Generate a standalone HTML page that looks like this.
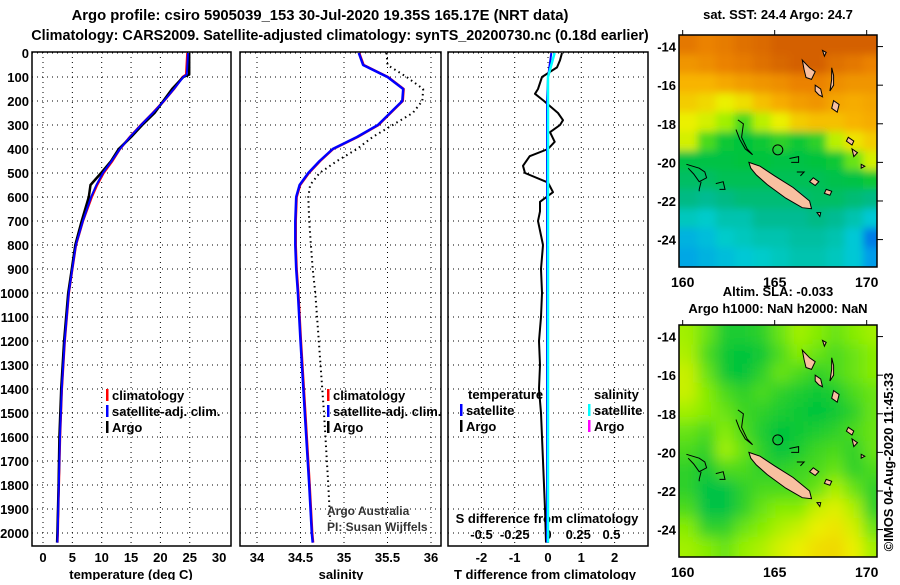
<!DOCTYPE html>
<html><head><meta charset="utf-8">
<style>
body{margin:0;background:#fff;}
svg text{font-family:"Liberation Sans",sans-serif;font-weight:bold;}
</style></head>
<body>
<svg id="c" width="900" height="580" viewBox="0 0 900 580" xmlns="http://www.w3.org/2000/svg">
<defs>
<clipPath id="clipTop"><rect x="679" y="35" width="198" height="232"/></clipPath>
<clipPath id="clipBot"><rect x="679" y="325" width="198" height="232"/></clipPath>
<filter id="blurA" x="-10%" y="-10%" width="120%" height="120%"><feGaussianBlur stdDeviation="4"/></filter>
<filter id="blurB" x="-10%" y="-10%" width="120%" height="120%"><feGaussianBlur stdDeviation="7"/></filter>
</defs>
<text x="320" y="20" font-size="14.8" text-anchor="middle">Argo profile: csiro 5905039_153 30-Jul-2020 19.35S 165.17E (NRT data)</text>
<text x="340" y="40" font-size="14.4" text-anchor="middle">Climatology: CARS2009. Satellite-adjusted climatology: synTS_20200730.nc (0.18d earlier)</text>
<g id="g"></g>
</svg>
<script>
// ---------- data ----------
const tempDepth = [0,90,100,150,200,250,300,350,400,450,500,550,600,700,800,900,1000,1200,1400,1600,1800,2000,2040];
const tempClim  = [24.6,24.4,23.8,22.3,20.6,18.7,16.7,14.8,13.1,11.8,10.3,9.2,8.3,6.8,5.6,5.0,4.4,3.7,3.2,2.9,2.7,2.5,2.45];
const tempSat   = [24.7,24.5,23.9,22.3,20.6,18.7,16.7,14.8,13.1,11.7,10.2,9.1,8.2,6.8,5.6,5.0,4.4,3.7,3.2,2.9,2.7,2.5,2.45];
const tempArgo  = [24.9,24.9,23.9,22.0,20.5,19.0,16.9,15.0,12.9,11.6,9.9,8.1,7.8,6.6,5.5,4.9,4.3,3.6,3.1,2.8,2.65,2.45,2.4];
const salDepth = [0,50,100,150,200,250,300,350,400,450,500,550,600,700,800,900,1000,1200,1500,1800,2000,2040];
const salClim  = [35.17,35.22,35.50,35.68,35.67,35.53,35.39,35.15,34.87,34.72,34.59,34.49,34.45,34.44,34.44,34.45,34.47,34.50,34.55,34.60,34.63,34.64];
const salArgoDepth = [0,50,100,150,200,250,300,350,400,450,500,550,600,700,800,900,1000,1200,1500,1800,1950];
const salArgo = [35.49,35.50,35.72,35.91,35.90,35.79,35.56,35.33,35.15,34.92,34.72,34.61,34.59,34.60,34.62,34.64,34.67,34.71,34.77,34.82,34.84];
const dDepth = [0,30,60,100,150,170,200,250,280,300,330,370,400,430,470,500,540,580,620,660,700,800,900,1000,1100,1200,1300,1400,1500,1700,1900,2040];
const dTArgo = [0.42,0.36,0.27,-0.18,-0.30,-0.39,-0.12,0.30,0.45,0.36,0.06,0.20,0.0,-0.55,-0.75,-0.69,0.0,0.15,-0.24,-0.24,-0.30,-0.15,-0.21,-0.18,-0.21,-0.27,-0.24,-0.27,-0.21,-0.15,-0.09,-0.06];
const dSatDepth = [0,100,200,2040];
const dTSat = [0.10,0.0,-0.03,-0.03];
const dSSat = [0.05,0.0,0.0,0.0];
const depthTicks = [0,100,200,300,400,500,600,700,800,900,1000,1100,1200,1300,1400,1500,1600,1700,1800,1900,2000];
const tempTicks = [0,5,10,15,20,25,30];
const salTicks = [34,34.5,35,35.5,36];
const salTickLabels = ["34","34.5","35","35.5","36"];
const dTTicks = [-2,-1,0,1,2];
const dSTicks = [-0.5,-0.25,0,0.25,0.5];
const dSTickLabels = ["-0.5","-0.25","0","0.25","0.5"];
const latTicks = [-14,-16,-18,-20,-22,-24];
const lonTicks = [160,165,170];
const sstGrid = [
[0.88,0.85,0.87,0.90,0.92,0.95,0.95,0.95,0.95,0.95,0.95],
[0.80,0.82,0.85,0.87,0.90,0.93,0.95,0.95,0.90,0.88,0.85],
[0.72,0.72,0.75,0.78,0.80,0.82,0.85,0.85,0.82,0.80,0.80],
[0.68,0.66,0.62,0.65,0.70,0.74,0.78,0.80,0.76,0.74,0.76],
[0.62,0.60,0.56,0.50,0.58,0.62,0.68,0.70,0.70,0.72,0.74],
[0.60,0.50,0.46,0.45,0.46,0.48,0.46,0.48,0.58,0.64,0.68],
[0.44,0.44,0.44,0.45,0.45,0.44,0.44,0.45,0.46,0.52,0.60],
[0.40,0.40,0.42,0.42,0.42,0.42,0.42,0.42,0.43,0.44,0.46],
[0.36,0.34,0.36,0.38,0.38,0.38,0.38,0.40,0.40,0.38,0.36],
[0.28,0.26,0.30,0.30,0.34,0.34,0.34,0.36,0.34,0.30,0.24],
[0.20,0.22,0.26,0.28,0.30,0.30,0.32,0.32,0.30,0.24,0.10],
[0.18,0.20,0.22,0.24,0.26,0.28,0.30,0.30,0.28,0.24,0.16]];
const slaGrid = [
[0.56,0.52,0.47,0.47,0.48,0.52,0.56,0.54,0.52,0.54,0.56],
[0.57,0.50,0.46,0.45,0.46,0.50,0.54,0.52,0.50,0.52,0.54],
[0.59,0.52,0.46,0.45,0.48,0.52,0.50,0.48,0.50,0.52,0.54],
[0.59,0.54,0.50,0.48,0.50,0.48,0.47,0.46,0.47,0.50,0.52],
[0.56,0.54,0.52,0.49,0.48,0.47,0.46,0.45,0.46,0.48,0.52],
[0.52,0.50,0.54,0.50,0.47,0.45,0.46,0.47,0.48,0.50,0.52],
[0.50,0.48,0.56,0.52,0.48,0.45,0.47,0.49,0.50,0.48,0.52],
[0.48,0.46,0.50,0.50,0.48,0.48,0.49,0.50,0.52,0.48,0.50],
[0.48,0.44,0.44,0.48,0.50,0.50,0.50,0.52,0.57,0.52,0.48],
[0.50,0.44,0.44,0.48,0.52,0.54,0.54,0.59,0.61,0.57,0.48],
[0.54,0.48,0.48,0.52,0.54,0.57,0.59,0.62,0.64,0.60,0.52],
[0.56,0.54,0.52,0.55,0.57,0.60,0.62,0.65,0.66,0.62,0.56]];
const gridLat0 = -13.4, gridLon0 = 159.8;
const newCal = [[163.6,-20.0],[164.2,-20.2],[165.0,-20.7],[166.0,-21.3],[166.9,-22.0],[167.0,-22.4],[166.5,-22.35],[165.6,-21.85],[164.6,-21.15],[164.0,-20.65],[163.7,-20.3]];
const vanuatu = [
[[166.5,-14.7],[166.9,-15.1],[167.2,-15.3],[167.0,-15.7],[166.7,-15.6],[166.6,-15.2]],
[[167.2,-16.0],[167.5,-16.2],[167.6,-16.6],[167.4,-16.5],[167.2,-16.3]],
[[168.1,-15.1],[168.2,-15.5],[168.2,-16.0],[168.0,-16.3],[168.1,-15.7]],
[[168.2,-16.8],[168.5,-17.0],[168.4,-17.4],[168.1,-17.2]],
[[169.0,-18.7],[169.3,-18.9],[169.2,-19.1],[168.9,-18.9]],
[[169.2,-19.3],[169.5,-19.5],[169.3,-19.7]],
[[167.1,-20.8],[167.4,-21.0],[167.2,-21.2],[166.9,-21.0]],
[[167.8,-21.4],[168.1,-21.5],[168.0,-21.7],[167.7,-21.6]],
[[167.6,-14.2],[167.8,-14.3],[167.7,-14.5]],
[[167.3,-22.6],[167.5,-22.6],[167.45,-22.8]],
[[169.7,-20.1],[169.9,-20.2],[169.7,-20.3]]];
const reefs = [
[[163.0,-17.8],[163.3,-18.0],[163.2,-18.7],[163.5,-19.3],[163.8,-19.6],[163.4,-19.3],[163.1,-18.8],[162.9,-18.3]],
[[160.2,-20.1],[160.9,-20.3],[161.2,-20.5],[161.3,-20.8],[160.9,-21.0],[160.6,-20.6],[160.3,-20.3]],
[[161.0,-21.0],[160.9,-21.4],[160.9,-21.5]],
[[161.8,-21.1],[162.2,-21.0],[162.3,-21.4],[162.0,-21.4]],
[[165.8,-19.8],[166.3,-19.7],[166.3,-20.0],[165.9,-20.0]],
[[166.2,-20.5],[166.6,-20.5],[166.4,-20.7]]];
const argoLon = 165.17, argoLat = -19.35;

// ---------- helpers ----------
const NS = "http://www.w3.org/2000/svg";
const G = document.getElementById('g');
function el(tag, attrs, parent){const e=document.createElementNS(NS,tag);for(const k in attrs)e.setAttribute(k,attrs[k]);(parent||G).appendChild(e);return e;}
function txt(x,y,s,size,anchor,name,parent,extra){const t=el('text',Object.assign({x:x,y:y,'font-size':size,'text-anchor':anchor||'start'},extra||{}),parent);t.textContent=s;


return t;}
const top0=52, pxDepth=0.24;
const yD = d => top0 + d*pxDepth + 1;
const xT = v => 43 + v*5.87;
const xS = v => 257 + (v-34)*87;
const xDT = v => 548 + v*33.3;
const xDS = v => 548 + v*133;
const panels=[[32,231],[240,441],[448,648]];
function line(pts, color, w, name, dash){
  const p=el('polyline',{points:pts.map(q=>q[0].toFixed(1)+','+q[1].toFixed(1)).join(' '),fill:'none',stroke:color,'stroke-width':w,'stroke-linejoin':'round'});
  if(dash) p.setAttribute('stroke-dasharray',dash);
  
  
  return p;
}

// panels frames, grid
panels.forEach((p,i)=>{
  const fr=el('rect',{x:p[0],y:top0,width:p[1]-p[0],height:494,fill:'none',stroke:'#000','stroke-width':1.5});
  
  
  depthTicks.forEach(d=>{
    const gl=el('line',{x1:p[0],x2:p[1],y1:yD(d),y2:yD(d),stroke:'#000','stroke-width':1,'stroke-dasharray':'1 4'});
    
    
  });
});
depthTicks.forEach(d=>{ txt(29,yD(d)+5,String(d),13,'end','depth-tick-label'); });
function vgrid(ticks,fx,name){ticks.forEach(v=>{const l=el('line',{x1:fx(v),x2:fx(v),y1:top0,y2:546,stroke:'#000','stroke-width':1,'stroke-dasharray':'1 4'});

});}
vgrid(tempTicks.slice(0,6),xT,'temp-gridline');
vgrid(salTicks,xS,'sal-gridline');
vgrid(dTTicks,xDT,'tdiff-gridline');
tempTicks.forEach(v=>txt(xT(v),562,String(v),13,'middle','temp-tick-label'));
salTicks.forEach((v,i)=>txt(xS(v),562,salTickLabels[i],13,'middle','sal-tick-label'));
dTTicks.forEach(v=>txt(xDT(v),562,String(v),13,'middle','tdiff-tick-label'));
dSTicks.forEach((v,i)=>txt(xDS(v)+(v>0?-3:0),539,dSTickLabels[i],13,'middle','sdiff-tick-label'));
txt(131,579,'temperature (deg C)',13,'middle','temp-axis-title');
txt(341,579,'salinity',13,'middle','sal-axis-title');
txt(545,579,'T difference from climatology',13,'middle','tdiff-axis-title');
txt(547,523,'S difference from climatology',13,'middle','sdiff-axis-title');

// temperature series
line(tempDepth.map((d,i)=>[xT(tempClim[i]),yD(d)]),'#f00',2.5,'temp-climatology-line');
line(tempDepth.map((d,i)=>[xT(tempArgo[i]),yD(d)]),'#000',2.5,'temp-argo-line');
line(tempDepth.map((d,i)=>[xT(tempSat[i]),yD(d)]),'#00f',2,'temp-satellite-line');
// salinity series
line(salArgoDepth.map((d,i)=>[xS(salArgo[i]),yD(d)]),'#000',2,'sal-argo-line','1.5 3.5');
line(salDepth.map((d,i)=>[xS(salClim[i]+0.005),yD(d)]),'#f00',2.5,'sal-climatology-line');
line(salDepth.map((d,i)=>[xS(salClim[i]),yD(d)]),'#00f',2.5,'sal-satellite-line');
// differences
line(dDepth.map((d,i)=>[xDT(dTArgo[i]),yD(d)]),'#000',2,'tdiff-argo-line');
line(dSatDepth.map((d,i)=>[xDT(dTSat[i]),yD(d)]),'#00f',2,'tdiff-satellite-line');
line(dSatDepth.map((d,i)=>[xDS(dSSat[i]),yD(d)]),'#0ff',2.5,'sdiff-satellite-line');

// legends
function leg(x,y,color,label,name){
  const r=el('rect',{x:x,y:y-11,width:2.5,height:12,fill:color});
  
  
  txt(x+6,y,label,13,'start',name);
}
leg(106,400,'#f00','climatology','legend-temp-climatology');
leg(106,416,'#00f','satellite-adj. clim.','legend-temp-satellite');
leg(106,432,'#000','Argo','legend-temp-argo');
leg(327,400,'#f00','climatology','legend-sal-climatology');
leg(327,416,'#00f','satellite-adj. clim.','legend-sal-satellite');
leg(327,432,'#000','Argo','legend-sal-argo');
txt(468,399,'temperature',13,'start','legend-temperature-heading');
txt(594,399,'salinity',13,'start','legend-salinity-heading');
leg(460,415,'#00f','satellite','legend-tdiff-satellite');
leg(460,431,'#000','Argo','legend-tdiff-argo');
leg(588,415,'#0ff','satellite','legend-sdiff-satellite');
leg(588,431,'#f0f','Argo','legend-sdiff-argo');
const a1=txt(327,515,'Argo Australia',12,'start','credit-argo-australia'); a1.setAttribute('font-weight','normal'); a1.setAttribute('fill','#333');
const a2=txt(327,531,'PI: Susan Wijffels',12,'start','credit-pi'); a2.setAttribute('font-weight','normal'); a2.setAttribute('fill','#333');

// ---------- maps ----------
const stops=[[0,[0,70,220]],[0.15,[0,150,235]],[0.25,[0,205,210]],[0.35,[0,185,140]],[0.45,[0,195,60]],[0.55,[150,240,0]],[0.62,[235,240,0]],[0.72,[248,180,0]],[0.85,[235,130,0]],[1,[200,80,0]]];
function cmap(v){for(let i=1;i<stops.length;i++){if(v<=stops[i][0]){const a=stops[i-1],b=stops[i],t=(v-a[0])/(b[0]-a[0]);return 'rgb('+a[1].map((c,k)=>Math.round(c+(b[1][k]-c)*t)).join(',')+')';}}return 'rgb(200,80,0)';}
function drawMap(y0,grid,clip,filt,name){
  const pxLat=19.3, pxLon=18.4, x0=679;
  const xL=lon=>x0+(lon-159.8)*pxLon, yL=lat=>y0+(-13.4-lat)*pxLat;
  const gc=el('g',{'clip-path':'url(#'+clip+')'});
  
  
  el('rect',{x:679,y:y0,width:198,height:232,fill:cmap(grid[6][5])},gc);
  const gb=el('g',{filter:'url(#'+filt+')'},gc);
  grid.forEach((row,r)=>row.forEach((v,c)=>{
    const cell=el('rect',{x:xL(gridLon0+c)-(c==0?20:0),y:yL(gridLat0-r)-(r==0?20:0),width:pxLon+1+(c==0||c==row.length-1?20:0),height:pxLat+1+(r==0||r==grid.length-1?20:0),fill:cmap(v)},gb);
    
    
  }));
  const toPts=poly=>poly.map(p=>xL(p[0]).toFixed(1)+','+yL(p[1]).toFixed(1)).join(' ');
  const nc=el('polygon',{points:toPts(newCal),fill:'#f8c0a0',stroke:'#000','stroke-width':1},gc);
  
  
  vanuatu.forEach(v=>{const p=el('polygon',{points:toPts(v),fill:'#f8c0a0',stroke:'#000','stroke-width':1},gc);
    
    });
  reefs.forEach(v=>{const p=el('polyline',{points:toPts(v),fill:'none',stroke:'#000','stroke-width':1},gc);
    
    });
  const mk=el('circle',{cx:xL(argoLon),cy:yL(argoLat),r:5,fill:'none',stroke:'#000','stroke-width':1},gc);
  
  
  const fr=el('rect',{x:679,y:y0,width:198,height:232,fill:'none',stroke:'#000','stroke-width':1.5});
  
  
  latTicks.forEach(l=>{
    txt(676,yL(l)+5,String(l),13,'end',name+'-lat-label');
    const t=el('line',{x1:877,x2:883,y1:yL(l),y2:yL(l),stroke:'#000'});
    
    
  });
  lonTicks.forEach(l=>{
    txt(xL(l),y0+252,String(l),14,'middle',name+'-lon-label');
    const t=el('line',{x1:xL(l),x2:xL(l),y1:y0-5,y2:y0,stroke:'#000'});
    
    
  });
}
drawMap(35,sstGrid,'clipTop','blurA','sst-map');
drawMap(325,slaGrid,'clipBot','blurB','sla-map');
txt(778,19,'sat. SST: 24.4 Argo: 24.7',13,'middle','sst-map-title');
txt(778,296,'Altim. SLA: -0.033',13,'middle','sla-map-title');
txt(778,313,'Argo h1000: NaN h2000: NaN',13,'middle','sla-map-subtitle');
const st=txt(0,0,'©IMOS 04-Aug-2020 11:45:33',13,'middle','timestamp-credit',null,{transform:'translate(893,462) rotate(-90)'});
st.setAttribute('font-weight','normal');
</script>
</body></html>
